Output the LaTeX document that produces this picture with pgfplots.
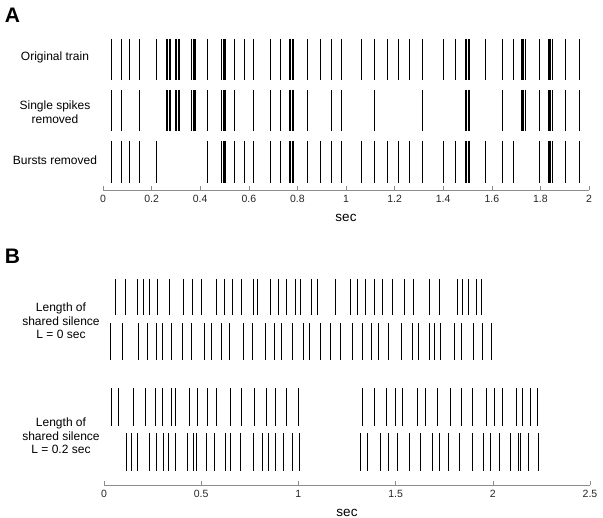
\documentclass[border=0pt]{standalone}
\usepackage{pgfplots}
\pgfplotsset{compat=1.18}
\usepackage{fontspec}
\setmainfont{Liberation Sans}
\pgfplotsset{
  spk/.style={only marks, mark=|, mark size=#1, mark options={line width=0.8bp, black, line cap=butt}},
  rasteraxis/.style={
    anchor=south west, scale only axis, width=486bp,
    axis x line=bottom, axis y line=none,
    x axis line style={-, draw=black!45, line width=0.6bp},
    tick align=inside, major tick length=4bp,
    tick style={black!45, line width=0.6bp},
    xticklabel style={font=\fontsize{10.5bp}{12bp}\selectfont, text=black!85, yshift=-2bp},
    /pgf/number format/assume math mode=true,
    xlabel={sec}, xlabel style={font=\fontsize{13.5bp}{15bp}\selectfont, text=black, yshift=-4bp},
    clip=false,
  }
}
\begin{document}
\begin{tikzpicture}
\path[use as bounding box] (0bp,0bp) rectangle (603bp,518bp);
% Labels
\node[font=\fontsize{21bp}{24bp}\selectfont\bfseries] at (12.5bp,503bp) {A};
\node[font=\fontsize{21bp}{24bp}\selectfont\bfseries] at (12.5bp,262bp) {B};
\node[font=\fontsize{12bp}{13.5bp}\selectfont, align=center] at (55bp,461bp) {Original train};
\node[font=\fontsize{12bp}{13.5bp}\selectfont, align=center] at (55bp,406bp) {Single spikes\\removed};
\node[font=\fontsize{12bp}{13.5bp}\selectfont, align=center] at (55bp,358bp) {Bursts removed};
\node[font=\fontsize{12bp}{13.5bp}\selectfont, align=center] at (61bp,197bp) {Length of\\shared silence\\L = 0 sec};
\node[font=\fontsize{12bp}{13.5bp}\selectfont, align=center] at (61bp,82bp) {Length of\\shared silence\\L = 0.2 sec};

% Panel A
\begin{axis}[rasteraxis, at={(103bp,328bp)}, height=151bp,
  xmin=0, xmax=2, ymin=0, ymax=151,
  xtick={0,0.2,0.4,0.6,0.8,1,1.2,1.4,1.6,1.8,2}]
\addplot[spk=20.5bp] coordinates {
(0.036,130.5)(0.075,130.5)(0.108,130.5)(0.148,130.5)(0.221,130.5)
(0.262,130.5)(0.267,130.5)(0.273,130.5)(0.278,130.5)
(0.298,130.5)(0.304,130.5)(0.310,130.5)(0.316,130.5)
(0.364,130.5)(0.370,130.5)(0.377,130.5)(0.382,130.5)
(0.429,130.5)
(0.488,130.5)(0.494,130.5)(0.500,130.5)(0.505,130.5)
(0.542,130.5)(0.580,130.5)(0.617,130.5)(0.689,130.5)(0.730,130.5)
(0.766,130.5)(0.772,130.5)(0.779,130.5)(0.785,130.5)
(0.841,130.5)(0.894,130.5)(0.941,130.5)(0.982,130.5)(1.063,130.5)(1.117,130.5)
(1.169,130.5)(1.214,130.5)(1.259,130.5)(1.313,130.5)(1.399,130.5)(1.449,130.5)
(1.490,130.5)(1.496,130.5)(1.502,130.5)(1.507,130.5)
(1.573,130.5)(1.643,130.5)(1.690,130.5)
(1.720,130.5)(1.726,130.5)(1.732,130.5)(1.738,130.5)
(1.794,130.5)
(1.831,130.5)(1.837,130.5)(1.843,130.5)(1.849,130.5)
(1.904,130.5)(1.962,130.5)
};
\addplot[spk=20.5bp] coordinates {
(0.036,79.5)(0.075,79.5)(0.148,79.5)
(0.262,79.5)(0.267,79.5)(0.273,79.5)(0.278,79.5)
(0.298,79.5)(0.304,79.5)(0.310,79.5)(0.316,79.5)
(0.364,79.5)(0.370,79.5)(0.377,79.5)(0.382,79.5)
(0.429,79.5)
(0.488,79.5)(0.494,79.5)(0.500,79.5)(0.505,79.5)
(0.542,79.5)(0.617,79.5)(0.689,79.5)(0.730,79.5)
(0.766,79.5)(0.772,79.5)(0.779,79.5)(0.785,79.5)
(0.841,79.5)(0.941,79.5)(0.982,79.5)(1.117,79.5)(1.313,79.5)
(1.490,79.5)(1.496,79.5)(1.502,79.5)(1.507,79.5)
(1.643,79.5)
(1.720,79.5)(1.726,79.5)(1.732,79.5)(1.738,79.5)
(1.794,79.5)
(1.831,79.5)(1.837,79.5)(1.843,79.5)(1.849,79.5)
(1.904,79.5)(1.962,79.5)
};
\addplot[spk=21bp] coordinates {
(0.036,28)(0.075,28)(0.108,28)(0.148,28)(0.221,28)(0.429,28)
(0.488,28)(0.494,28)(0.500,28)(0.505,28)
(0.542,28)(0.580,28)(0.617,28)(0.689,28)(0.730,28)
(0.766,28)(0.772,28)(0.779,28)(0.785,28)
(0.841,28)(0.894,28)(0.941,28)(0.982,28)(1.063,28)(1.117,28)(1.169,28)
(1.214,28)(1.259,28)(1.313,28)(1.399,28)(1.449,28)
(1.490,28)(1.496,28)(1.502,28)(1.507,28)
(1.573,28)(1.643,28)(1.690,28)(1.794,28)
(1.831,28)(1.837,28)(1.843,28)(1.849,28)
(1.904,28)(1.962,28)
};
\end{axis}

% Panel B
\begin{axis}[rasteraxis, at={(104bp,33bp)}, height=206bp,
  xmin=0, xmax=2.5, ymin=0, ymax=206,
  xtick={0,0.5,1,1.5,2,2.5}]
\addplot[spk=18bp] coordinates {
(0.060,188)(0.108,188)(0.170,188)(0.204,188)(0.236,188)(0.277,188)(0.338,188)
(0.408,188)(0.457,188)(0.500,188)(0.577,188)(0.618,188)(0.661,188)(0.709,188)
(0.766,188)(0.791,188)(0.855,188)(0.896,188)(0.937,188)(0.987,188)(1.008,188)
(1.069,188)(1.100,188)(1.189,188)
(1.268,188)(1.304,188)(1.346,188)(1.391,188)(1.432,188)(1.484,188)(1.547,188)
(1.591,188)(1.672,188)(1.725,188)(1.819,188)(1.842,188)(1.876,188)(1.918,188)(1.942,188)
};
\addplot[spk=18.5bp] coordinates {
(0.034,143.5)(0.096,143.5)(0.176,143.5)(0.221,143.5)(0.271,143.5)(0.298,143.5)
(0.349,143.5)(0.404,143.5)(0.449,143.5)(0.515,143.5)(0.551,143.5)(0.605,143.5)
(0.644,143.5)(0.719,143.5)(0.764,143.5)(0.831,143.5)(0.877,143.5)(0.913,143.5)
(0.968,143.5)(1.027,143.5)(1.059,143.5)(1.114,143.5)(1.163,143.5)(1.216,143.5)
(1.276,143.5)(1.331,143.5)(1.374,143.5)(1.413,143.5)(1.465,143.5)(1.531,143.5)
(1.586,143.5)(1.617,143.5)(1.675,143.5)(1.699,143.5)(1.733,143.5)(1.804,143.5)
(1.841,143.5)(1.901,143.5)(1.949,143.5)(1.995,143.5)
};
\addplot[spk=19bp] coordinates {
(0.040,78)(0.074,78)(0.152,78)(0.214,78)(0.266,78)(0.298,78)(0.349,78)(0.367,78)
(0.438,78)(0.483,78)(0.531,78)(0.579,78)(0.649,78)(0.706,78)(0.774,78)(0.834,78)
(0.882,78)(0.940,78)(1.002,78)
(1.328,78)(1.391,78)(1.451,78)(1.500,78)(1.535,78)(1.610,78)(1.655,78)(1.716,78)
(1.783,78)(1.836,78)(1.896,78)(1.967,78)(2.008,78)(2.050,78)(2.121,78)(2.153,78)
(2.193,78)(2.227,78)
};
\addplot[spk=19bp] coordinates {
(0.117,33)(0.142,33)(0.170,33)(0.233,33)(0.272,33)(0.308,33)(0.329,33)(0.365,33)
(0.428,33)(0.461,33)(0.476,33)(0.526,33)(0.570,33)(0.625,33)(0.649,33)(0.704,33)
(0.769,33)(0.814,33)(0.846,33)(0.882,33)(0.923,33)(0.970,33)(1.004,33)
(1.321,33)(1.355,33)(1.420,33)(1.461,33)(1.507,33)(1.571,33)(1.627,33)(1.689,33)
(1.727,33)(1.773,33)(1.829,33)(1.895,33)(1.954,33)(1.989,33)(2.035,33)(2.093,33)
(2.134,33)(2.141,33)(2.182,33)(2.237,33)
};
\end{axis}
\end{tikzpicture}
\end{document}
